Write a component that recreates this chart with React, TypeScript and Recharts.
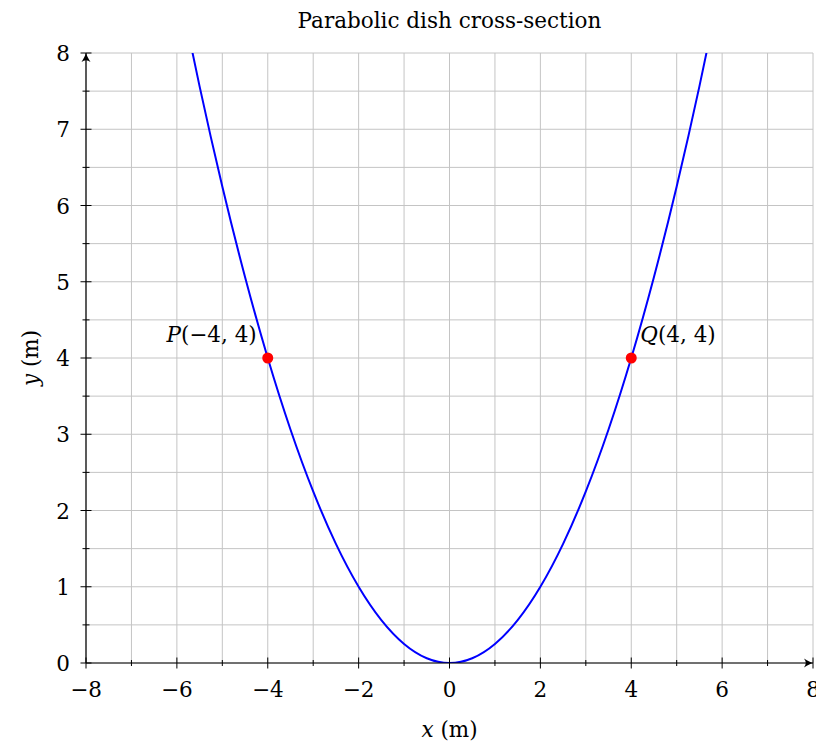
import React from "react";
import {
  ComposedChart,
  Line,
  Scatter,
  XAxis,
  YAxis,
  CartesianGrid,
  ReferenceDot,
} from "recharts";

// Parabola samples (x in metres, y in metres)
const curveX = [-5.75, -5.5, -5, -4.5, -4, -3.5, -3, -2.5, -2, -1.5, -1, -0.5, 0, 0.5, 1, 1.5, 2, 2.5, 3, 3.5, 4, 4.5, 5, 5.5, 5.75];
const curveY = [8.27, 7.5625, 6.25, 5.0625, 4, 3.0625, 2.25, 1.5625, 1, 0.5625, 0.25, 0.0625, 0, 0.0625, 0.25, 0.5625, 1, 1.5625, 2.25, 3.0625, 4, 5.0625, 6.25, 7.5625, 8.27];

// Marked points
const pointNames = ["P", "Q"];
const pointX = [-4, 4];
const pointY = [4, 4];

// Axis ticks
const xTicks = [-8, -7, -6, -5, -4, -3, -2, -1, 0, 1, 2, 3, 4, 5, 6, 7, 8];
const yTicks = [0, 0.5, 1, 1.5, 2, 2.5, 3, 3.5, 4, 4.5, 5, 5.5, 6, 6.5, 7, 7.5, 8];

const title = "Parabolic dish cross-section";

const curveData = curveX.map((x, i) => ({ x, y: curveY[i] }));
const pointData = pointNames.map((name, i) => ({ name, x: pointX[i], y: pointY[i] }));

const FONT = "'DejaVu Serif', 'Liberation Serif', serif";
const FS = 21.5;
const fmt = (v: number) => (v < 0 ? "\u2212" + Math.abs(v) : String(v));

const XTick = (props: any) => {
  const { x, y, payload } = props;
  const v = payload.value as number;
  const major = v % 2 === 0;
  const h = major ? 5.5 : 3;
  return (
    <g>
      <line x1={x} x2={x} y1={y - h} y2={y + h} stroke="#000" strokeWidth={1} />
      {major && (
        <text x={x} y={y + 34} textAnchor="middle" fontFamily={FONT} fontSize={FS} fill="#000">
          {fmt(v)}
        </text>
      )}
    </g>
  );
};

const YTick = (props: any) => {
  const { x, y, payload } = props;
  const v = payload.value as number;
  const major = Number.isInteger(v);
  const h = major ? 5.5 : 3.5;
  return (
    <g>
      <line x1={x - h} x2={x + h} y1={y} y2={y} stroke="#000" strokeWidth={1} />
      {major && (
        <text x={x - 16} y={y + 8} textAnchor="end" fontFamily={FONT} fontSize={FS} fill="#000">
          {fmt(v)}
        </text>
      )}
    </g>
  );
};

const PointShape = (props: any) => {
  const { cx, cy, payload } = props;
  const left = payload.x < 0;
  return (
    <g>
      <circle cx={cx} cy={cy} r={5.5} fill="#ff0000" />
      <text
        x={left ? cx - 11 : cx + 9}
        y={cy - 16}
        textAnchor={left ? "end" : "start"}
        fontFamily={FONT}
        fontSize={FS}
        fill="#000"
      >
        <tspan fontStyle="italic">{payload.name}</tspan>
        {`(${fmt(payload.x)}, ${fmt(payload.y)})`}
      </text>
    </g>
  );
};

const ArrowRight = (props: any) => {
  const { cx, cy } = props;
  return (
    <path
      d={`M ${cx - 9} ${cy - 4.5} Q ${cx - 3} ${cy - 0.8} ${cx} ${cy} Q ${cx - 3} ${cy + 0.8} ${cx - 9} ${cy + 4.5} Q ${cx - 5.5} ${cy} ${cx - 9} ${cy - 4.5} Z`}
      fill="#000"
    />
  );
};

const ArrowUp = (props: any) => {
  const { cx, cy } = props;
  return (
    <path
      d={`M ${cx - 4.5} ${cy + 9} Q ${cx - 0.8} ${cy + 3} ${cx} ${cy} Q ${cx + 0.8} ${cy + 3} ${cx + 4.5} ${cy + 9} Q ${cx} ${cy + 5.5} ${cx - 4.5} ${cy + 9} Z`}
      fill="#000"
    />
  );
};

export default function App() {
  const W = 816;
  const H = 744;
  const plotLeft = 86;
  const plotRight = 813;
  const plotTop = 53;
  const plotBottom = 663;
  const cxPlot = (plotLeft + plotRight) / 2;
  return (
    <div style={{ position: "absolute", left: 0, top: 0, width: W, height: H, background: "#fff" }}>
      <ComposedChart
        width={W}
        height={H}
        data={curveData}
        margin={{ top: plotTop, right: W - plotRight, bottom: 0, left: 0 }}
      >
        <CartesianGrid stroke="#c4c4c4" strokeWidth={1} />
        <XAxis
          type="number"
          dataKey="x"
          domain={[-8, 8]}
          ticks={xTicks}
          interval={0}
          allowDataOverflow
          height={H - plotBottom}
          tickSize={0}
          tickMargin={0}
          tickLine={false}
          axisLine={{ stroke: "#000", strokeWidth: 1.2 }}
          tick={<XTick />}
        />
        <YAxis
          type="number"
          dataKey="y"
          domain={[0, 8]}
          ticks={yTicks}
          interval={0}
          allowDataOverflow
          width={plotLeft}
          tickSize={0}
          tickMargin={0}
          tickLine={false}
          axisLine={{ stroke: "#000", strokeWidth: 1.2 }}
          tick={<YTick />}
        />
        <Line
          type="monotone"
          dataKey="y"
          stroke="#0000ff"
          strokeWidth={2}
          dot={false}
          activeDot={false}
          isAnimationActive={false}
        />
        <Scatter data={pointData} dataKey="y" shape={<PointShape />} isAnimationActive={false} />
        <ReferenceDot x={8} y={0} ifOverflow="visible" shape={<ArrowRight />} />
        <ReferenceDot x={-8} y={8} ifOverflow="visible" shape={<ArrowUp />} />
      </ComposedChart>
      <svg
        width={W}
        height={H}
        style={{ position: "absolute", left: 0, top: 0, pointerEvents: "none" }}
      >
        <text x={cxPlot} y={28} textAnchor="middle" fontFamily={FONT} fontSize={FS} fill="#000">
          {title}
        </text>
        <text x={cxPlot} y={737} textAnchor="middle" fontFamily={FONT} fontSize={FS} fill="#000">
          <tspan fontStyle="italic">x</tspan> (m)
        </text>
        <text
          x={0}
          y={0}
          transform={`translate(38, ${(plotTop + plotBottom) / 2}) rotate(-90)`}
          textAnchor="middle"
          fontFamily={FONT}
          fontSize={FS}
          fill="#000"
        >
          <tspan fontStyle="italic">y</tspan> (m)
        </text>
      </svg>
    </div>
  );
}
